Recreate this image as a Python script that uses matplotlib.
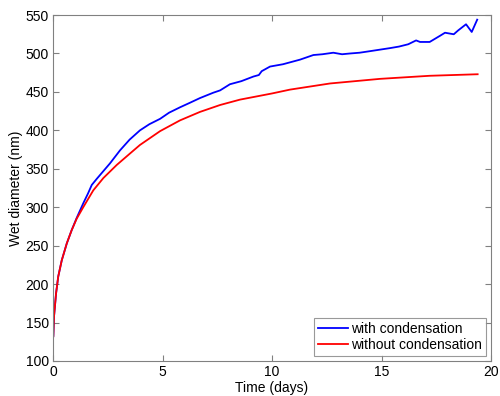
import matplotlib
matplotlib.use("Agg")
import matplotlib.pyplot as plt

plt.rcParams['font.family'] = ['Liberation Sans', 'DejaVu Sans']

t_with = [0, 0.015, 0.046, 0.14, 0.24, 0.4, 0.63, 0.85, 1.08, 1.38, 1.6, 1.77, 2.0, 2.15,
          2.6, 3.06, 3.5, 3.97, 4.4, 4.89, 5.3, 5.8, 6.26, 6.71, 7.32, 7.63, 8.08, 8.6,
          9.15, 9.4, 9.53, 9.91, 10.5, 11.28, 11.89, 12.3, 12.8, 13.2, 13.56, 14.0, 14.47,
          15.39, 15.8, 16.22, 16.58, 16.76, 17.2, 17.67, 17.9, 18.3, 18.5, 18.86, 19.12, 19.37]
d_with = [130, 132, 158, 188, 210, 231, 253, 270, 286, 305, 318, 329, 337, 342,
          357, 374, 388, 400, 408, 415, 423, 430, 436, 442, 449, 452, 460, 464,
          470, 472, 477, 483, 486, 492, 498, 499, 501, 499, 500, 501, 503,
          507, 509, 512, 517, 515, 515, 523, 527, 525, 530, 538, 528, 544]

t_without = [0, 0.015, 0.046, 0.14, 0.24, 0.4, 0.63, 0.85, 1.08, 1.38, 1.84, 2.3, 2.91,
             3.52, 3.97, 4.89, 5.8, 6.71, 7.63, 8.54, 10.0, 10.82, 12.65, 14.93, 17.2, 19.39]
d_without = [130, 132, 158, 188, 210, 231, 253, 270, 285, 300, 322, 338, 355,
             370, 381, 399, 413, 424, 433, 440, 448, 453, 461, 467, 471, 473]

xticks = [0, 5, 10, 15, 20]
yticks = [100, 150, 200, 250, 300, 350, 400, 450, 500, 550]

fig = plt.figure(figsize=(5, 3.96), dpi=100)
ax = fig.add_axes([0.106, 0.0884, 0.876, 0.8736])
ax.plot(t_with, d_with, color='#0000ff', lw=1.3, label='with condensation')
ax.plot(t_without, d_without, color='#ff0000', lw=1.3, label='without condensation')
ax.set_xlim(0, 20)
ax.set_ylim(100, 550)
ax.set_xticks(xticks)
ax.set_yticks(yticks)
ax.tick_params(direction='in', length=4, width=0.8, color='#808080', labelsize=10,
               top=True, right=True, pad=3)
for s in ax.spines.values():
    s.set_color('#808080')
    s.set_linewidth(0.8)
ax.set_xlabel('Time (days)', fontsize=10, labelpad=1)
ax.set_ylabel('Wet diameter (nm)', fontsize=10, labelpad=2)
leg = ax.legend(loc='lower right', fontsize=10, frameon=True, fancybox=False,
                edgecolor='#808080', handlelength=2.2, handletextpad=0.2,
                borderpad=0.3, labelspacing=0.15, borderaxespad=0.35)
leg.get_frame().set_linewidth(0.8)
fig.savefig('out.png', dpi=100)
